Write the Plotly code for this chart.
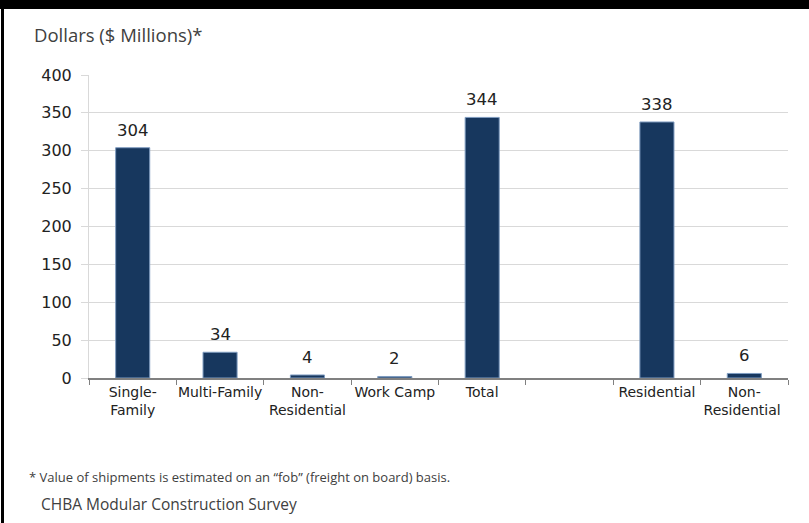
import plotly.graph_objects as go

categories = ["Single-<br>Family", "Multi-Family", "Non-<br>Residential", "Work Camp",
              "Total", " ", "Residential", "Non-<br>Residential "]
values = [304, 34, 4, 2, 344, None, 338, 6]
y_ticks = [0, 50, 100, 150, 200, 250, 300, 350, 400]

W, H = 809, 523
L, R, T, B = 89, 21, 75, 145
pw, ph = W - L - R, H - T - B

def px_x(x):
    return (x - L) / pw

def px_y(y):
    return 1 - (y - T) / ph

bar_color = "#17375E"
num_font = "DejaVu Sans"
text_font = "Open Sans"

fig = go.Figure()
fig.add_trace(go.Bar(
    x=categories, y=values,
    marker=dict(color=bar_color, line=dict(color="#7f9cc0", width=1)),
    width=0.39, hoverinfo="skip", showlegend=False,
))

for c, v in zip(categories, values):
    if v is None:
        continue
    fig.add_annotation(x=c, y=v, text=str(v), showarrow=False, yanchor="bottom",
                       yshift=6, font=dict(family=num_font, size=16.5, color="#222"))

# header text & footnotes
fig.add_annotation(xref="paper", yref="paper", x=px_x(32), y=px_y(35), xanchor="left", yanchor="middle",
                   text="Dollars ($ Millions)*", showarrow=False,
                   font=dict(family=text_font, size=18.5, color="#404040"))
fig.add_annotation(xref="paper", yref="paper", x=px_x(27), y=px_y(477), xanchor="left", yanchor="middle",
                   text="* Value of shipments is estimated on an \u201cfob\u201d (freight on board) basis.",
                   showarrow=False, font=dict(family=text_font, size=13, color="#404040"))
fig.add_annotation(xref="paper", yref="paper", x=px_x(39), y=px_y(504), xanchor="left", yanchor="middle",
                   text="CHBA Modular Construction Survey",
                   showarrow=False, font=dict(family=text_font, size=15.5, color="#404040"))

# frame: black top band and left border
fig.add_shape(type="rect", xref="paper", yref="paper", x0=px_x(0), x1=px_x(W), y0=px_y(9), y1=px_y(0),
              fillcolor="black", line_width=0, layer="above")
fig.add_shape(type="rect", xref="paper", yref="paper", x0=px_x(1), x1=px_x(4), y0=px_y(H), y1=px_y(0),
              fillcolor="black", line_width=0, layer="above")

fig.update_layout(
    width=W, height=H,
    margin=dict(l=L, r=R, t=T, b=B, pad=0, autoexpand=False),
    paper_bgcolor="white", plot_bgcolor="white",
    bargap=0.61,
    font=dict(family=num_font, color="#222"),
)
fig.update_xaxes(
    type="category", showgrid=False, showline=True, linecolor="#808080", linewidth=1.5,
    ticks="outside", tickson="boundaries", ticklen=5, tickcolor="#808080", tickwidth=1,
    tickangle=0, automargin=False,
    tickfont=dict(family=num_font, size=14, color="#222"), fixedrange=True,
)
fig.update_yaxes(
    range=[0, 400], tickvals=y_ticks, showgrid=True, gridcolor="#d9d9d9", gridwidth=1,
    showline=True, linecolor="#d9d9d9", linewidth=1, zeroline=False, automargin=False,
    ticks="outside", ticklen=7, tickcolor="#d9d9d9", ticklabelstandoff=6,
    tickfont=dict(family=num_font, size=16, color="#222"), fixedrange=True,
)

fig.write_html("out.html", config={"displayModeBar": False},
               post_script="document.body.style.margin='0';document.body.style.padding='0';")
